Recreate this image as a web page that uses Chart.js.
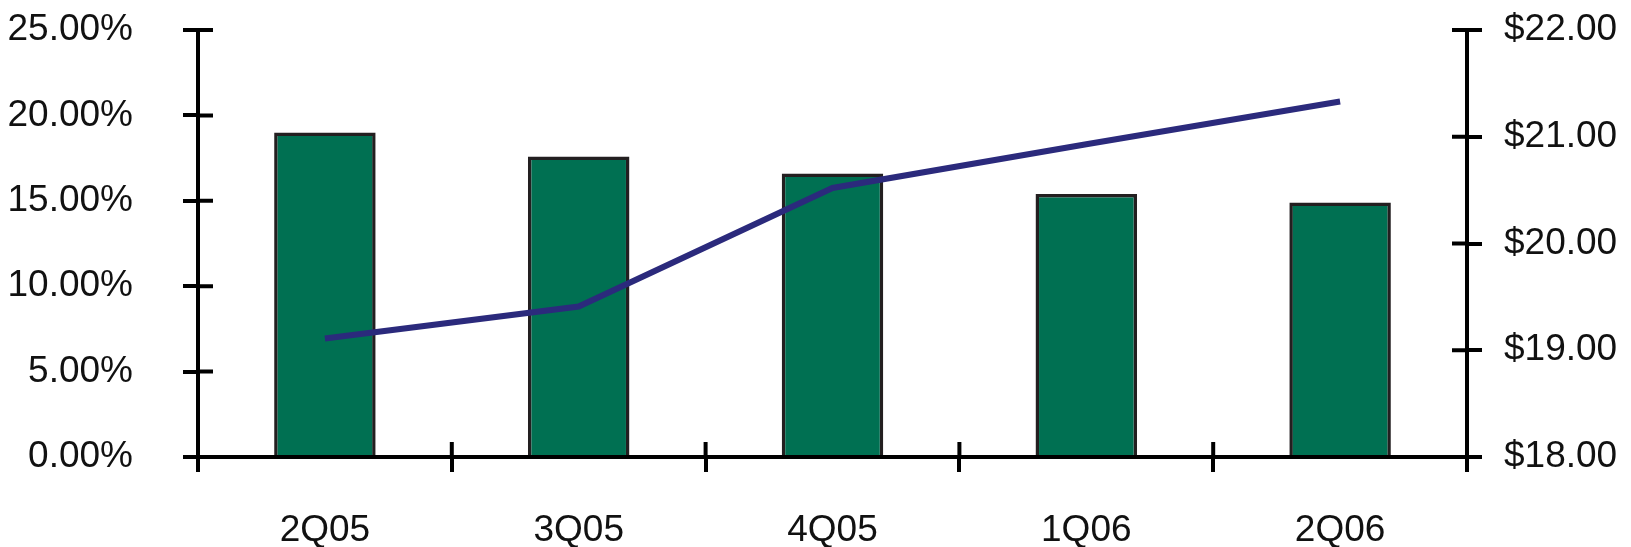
<!DOCTYPE html>
<html>
<head>
<meta charset="utf-8">
<script src="https://cdn.jsdelivr.net/npm/chart.js@4"></script>
<style>
  html, body { margin: 0; padding: 0; background: #fff; }
  #wrap { width: 1631px; height: 547px; }
</style>
</head>
<body>
<div id="wrap"><canvas id="chart"></canvas></div>
<script>
const quarters = ['2Q05', '3Q05', '4Q05', '1Q06', '2Q06'];
const pctValues = [19.0, 17.6, 16.6, 15.4, 14.9];
const priceValues = [19.11, 19.41, 20.52, 20.93, 21.33];

const FONT = { family: '"Liberation Sans", Arial, sans-serif', size: 37 };
const AXIS = '#000000';
const TICK = 15;

// chart.js only draws tick marks outside the axis, add the inner half
const innerTicks = {
    id: 'innerTicks',
    afterDraw(chart) {
        const ctx = chart.ctx;
        const area = chart.chartArea;
        ctx.save();
        ctx.strokeStyle = AXIS;
        ctx.lineWidth = 4;
        ctx.beginPath();
        const y = chart.scales.y;
        y.ticks.forEach((t, i) => {
            const py = y.getPixelForTick(i);
            ctx.moveTo(area.left, py);
            ctx.lineTo(area.left + TICK, py);
        });
        const y1 = chart.scales.y1;
        y1.ticks.forEach((t, i) => {
            const py = y1.getPixelForTick(i);
            ctx.moveTo(area.right, py);
            ctx.lineTo(area.right - TICK, py);
        });
        const x = chart.scales.x;
        for (let i = 0; i <= quarters.length; i++) {
            const px = x.getPixelForValue(i - 0.5);
            ctx.moveTo(px, area.bottom);
            ctx.lineTo(px, area.bottom - TICK);
        }
        ctx.stroke();
        ctx.restore();
    }
};

new Chart(document.getElementById('chart'), {
    type: 'bar',
    data: {
        labels: quarters,
        datasets: [
            {
                type: 'line',
                data: priceValues,
                yAxisID: 'y1',
                borderColor: '#2b2a7c',
                borderWidth: 6,
                pointRadius: 0,
                tension: 0,
                fill: false,
                order: 0
            },
            {
                type: 'bar',
                data: pctValues,
                yAxisID: 'y',
                backgroundColor: '#007052',
                borderColor: '#231f20',
                borderWidth: 3.5,
                barPercentage: 0.4,
                categoryPercentage: 1.0,
                order: 1
            }
        ]
    },
    options: {
        responsive: true,
        maintainAspectRatio: false,
        animation: false,
        layout: { padding: { top: 30, left: 0, right: 0, bottom: 0 } },
        plugins: {
            legend: { display: false },
            tooltip: { enabled: false }
        },
        scales: {
            x: {
                offset: true,
                grid: { offset: true, drawOnChartArea: false, drawTicks: true, tickLength: TICK, color: AXIS, lineWidth: 4 },
                border: { display: true, color: AXIS, width: 4 },
                ticks: { font: FONT, color: '#111', padding: 37, maxRotation: 0 },
                afterFit: s => { s.height = 90; }
            },
            y: {
                position: 'left',
                min: 0,
                max: 25,
                grid: { drawOnChartArea: false, drawTicks: true, tickLength: TICK, color: AXIS, lineWidth: 4 },
                border: { display: true, color: AXIS, width: 4 },
                ticks: {
                    stepSize: 5,
                    font: FONT,
                    color: '#111',
                    padding: 50,
                    callback: v => v.toFixed(2) + '%'
                },
                afterFit: s => { s.width = 198; s.paddingTop = 0; s.paddingBottom = 0; }
            },
            y1: {
                position: 'right',
                min: 18,
                max: 22,
                grid: { drawOnChartArea: false, drawTicks: true, tickLength: TICK, color: AXIS, lineWidth: 4 },
                border: { display: true, color: AXIS, width: 4 },
                ticks: {
                    stepSize: 1,
                    font: FONT,
                    color: '#111',
                    padding: 22,
                    callback: v => '$' + v.toFixed(2)
                },
                afterFit: s => { s.width = 164; s.paddingTop = 0; s.paddingBottom = 0; }
            }
        }
    },
    plugins: [innerTicks]
});
</script>
</body>
</html>
